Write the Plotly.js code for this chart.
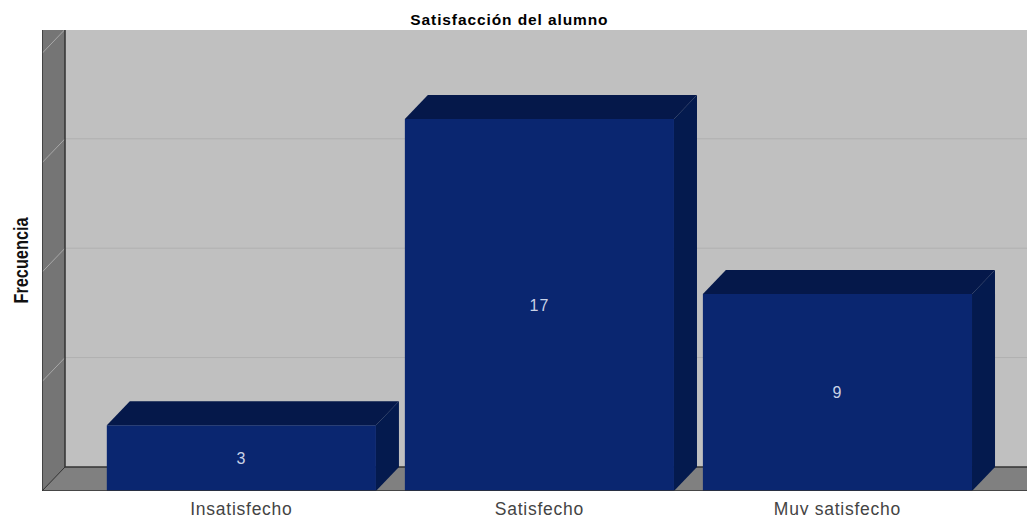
<!DOCTYPE html>
<html>
<head>
<meta charset="utf-8">
<script src="https://cdn.plot.ly/plotly-3.0.1.min.js"></script>
<style>
html,body{margin:0;padding:0;background:#fff;overflow:hidden}
#chart{width:1027px;height:515px}
.gtitle{letter-spacing:0.9px}
.xtick text{letter-spacing:0.75px}
.bartext{letter-spacing:1px}
.g-ytitle{transform-origin:21px 260px;transform:translateX(-2px) scale(1.28,1)}
</style>
</head>
<body>
<div id="chart"></div>
<script>
const categories = ["Insatisfecho", "Satisfecho", "Muy satisfecho"];
const frecuencia = [3, 17, 9];
const gridValues = [5, 10, 15, 20];
const positions = [0, 1, 2];

const barWidth = 0.903;
const depthX = 0.0772;
const depthY = 1.097;
const xMin = -0.669, xMax = 2.636;
const yMax = 21.07;

const frontColor = "#0a2670";
const topColor = "#05184a";
const sideColor = "#041a4e";

function face(xs, ys, color) {
  return {type: "scatter", mode: "lines", x: xs, y: ys, fill: "toself", fillcolor: color,
          line: {width: 0}, hoverinfo: "skip", showlegend: false};
}

const traces = [{
  type: "bar", x: positions, y: frecuencia, width: barWidth,
  marker: {color: frontColor, line: {width: 0}},
  text: frecuencia.map(String), textposition: "inside", insidetextanchor: "middle", textangle: 0,
  textfont: {family: "Liberation Sans, Arial, sans-serif", size: 16, color: "#c9d2e6"},
  hoverinfo: "skip", showlegend: false
}];
positions.forEach((p, i) => {
  const l = p - barWidth / 2, r = p + barWidth / 2, v = frecuencia[i];
  traces.push(face([l, l + depthX, r + depthX, r, l], [v, v + depthY, v + depthY, v, v], topColor));
  traces.push(face([r, r + depthX, r + depthX, r, r], [v, v + depthY, depthY, 0, v], sideColor));
});

const shapes = [
  {type: "path", layer: "below", xref: "x", yref: "y",
   path: `M${xMin},0 L${xMin + depthX},${depthY} L${xMax},${depthY} L${xMax},0 Z`,
   fillcolor: "#808080", line: {width: 0}},
  {type: "rect", layer: "below", xref: "x", yref: "y", x0: xMin, x1: xMin + depthX, y0: 0, y1: yMax,
   fillcolor: "#757575", line: {width: 0}},
  {type: "path", layer: "below", xref: "x", yref: "y",
   path: `M${xMin},0 L${xMin + depthX},${depthY} L${xMin + depthX},0 Z`,
   fillcolor: "#808080", line: {width: 0}}
];
gridValues.forEach(v => {
  shapes.push({type: "line", layer: "below", xref: "x", yref: "y", x0: xMin + depthX, x1: xMax,
               y0: v + depthY, y1: v + depthY, line: {color: "#b0b0b0", width: 1}});
  shapes.push({type: "line", layer: "below", xref: "x", yref: "y", x0: xMin, x1: xMin + depthX,
               y0: v, y1: v + depthY, line: {color: "#a8a8a8", width: 1}});
});
const edge = {color: "#333333", width: 1.5};
shapes.push({type: "line", layer: "below", xref: "x", yref: "y", x0: xMin, x1: xMin, y0: 0, y1: yMax, line: edge});
shapes.push({type: "line", layer: "below", xref: "x", yref: "y", x0: xMin + depthX, x1: xMin + depthX, y0: depthY, y1: yMax, line: edge});
shapes.push({type: "line", layer: "below", xref: "x", yref: "y", x0: xMin + depthX, x1: xMax, y0: depthY, y1: depthY, line: edge});
shapes.push({type: "line", layer: "below", xref: "x", yref: "y", x0: xMin, x1: xMin + depthX, y0: 0, y1: depthY, line: {color: "#333333", width: 1}});
shapes.push({type: "line", layer: "above", xref: "x", yref: "y", x0: xMin, x1: xMax, y0: 0, y1: 0, line: edge});

const layout = {
  width: 1027, height: 515, autosize: false,
  margin: {l: 42, r: 0, t: 30, b: 24, pad: 0},
  paper_bgcolor: "#ffffff", plot_bgcolor: "#c0c0c0",
  title: {text: "Satisfacción del alumno", x: 0.496, xanchor: "center", y: 0.9625, yanchor: "middle",
          font: {family: "Liberation Sans, Arial, sans-serif", size: 15.5, color: "#000", weight: 700}},
  xaxis: {range: [xMin, xMax], tickmode: "array", tickvals: positions, ticktext: categories,
          showgrid: false, zeroline: false, showline: false, ticks: "", fixedrange: true, ticklabelstandoff: 5,
          tickfont: {family: "Liberation Sans, Arial, sans-serif", size: 17.5, color: "#444"}},
  yaxis: {range: [0, yMax], showticklabels: false, showgrid: false, zeroline: false, showline: false, ticks: "",
          fixedrange: true,
          title: {text: "Frecuencia", standoff: 8,
                  font: {family: "Liberation Sans, Arial, sans-serif", size: 16.3, color: "#111", weight: 700}}},
  shapes: shapes,
  showlegend: false
};
Plotly.newPlot("chart", traces, layout, {displayModeBar: false, staticPlot: true});
</script>
</body>
</html>
